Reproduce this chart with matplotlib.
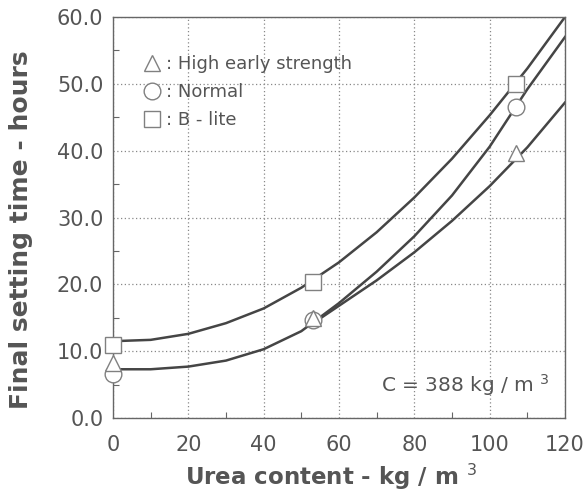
import numpy as np
import matplotlib.pyplot as plt
from matplotlib.lines import Line2D

plt.rcParams['font.family'] = ['DejaVu Sans']

# measured points (urea kg/m3 vs final setting time h)
urea = [0, 53, 107]
high_early = [8.2, 15.0, 39.7]
normal = [6.6, 14.6, 46.6]
b_lite = [11.0, 20.4, 50.0]

# fitted curves
curve_x = [0, 10, 20, 30, 40, 50, 60, 70, 80, 90, 100, 110, 120]
curve_b_lite = [11.5, 11.7, 12.6, 14.2, 16.4, 19.5, 23.3, 27.8, 33.0, 38.8, 45.3, 52.3, 60.0]
curve_normal = [7.3, 7.3, 7.7, 8.6, 10.3, 13.0, 17.2, 21.9, 27.2, 33.3, 40.6, 49.2, 57.0]
curve_hx = [55, 60, 70, 80, 90, 100, 110, 120]
curve_high = [14.9, 16.8, 20.6, 24.8, 29.5, 34.7, 40.5, 47.2]

line_c = '#454545'
mk_c = '#808080'
txt_c = '#555555'

fig = plt.figure(figsize=(5.87, 4.93), dpi=100)
ax = fig.add_axes([0.1925, 0.152, 0.77, 0.8135])

ax.plot(curve_x, curve_b_lite, color=line_c, lw=1.8)
ax.plot(curve_x, curve_normal, color=line_c, lw=1.8)
ax.plot(curve_hx, curve_high, color=line_c, lw=1.8)

mk = dict(ls='none', mfc='white', mec=mk_c, mew=1.0, ms=12, clip_on=False, zorder=5)
ax.plot(urea, b_lite, marker='s', **mk)
ax.plot(urea, normal, marker='o', **mk)
ax.plot(urea, high_early, marker='^', **mk)

ax.set_xlim(0, 120)
ax.set_ylim(0, 60)
ax.set_xticks(np.arange(0, 121, 20))
ax.set_yticks(np.arange(0, 61, 10))
ax.set_xticks(np.arange(10, 120, 20), minor=True)
ax.set_yticks(np.arange(5, 60, 10), minor=True)
ax.set_yticklabels(['%.1f' % v for v in np.arange(0, 61, 10)])
ax.tick_params(which='both', direction='in', colors='#666666', labelcolor=txt_c,
               labelsize=15, width=0.8)
ax.tick_params(which='major', length=0)
ax.tick_params(axis='x', which='major', pad=12)
ax.tick_params(axis='y', which='major', pad=7)
ax.tick_params(which='minor', length=4)
ax.grid(True, which='major', ls=(0, (1, 2)), color='#888888', lw=0.9)
for s in ax.spines.values():
    s.set_color('#666666')
    s.set_linewidth(1.0)

ax.set_xlabel('Urea content - kg / m $^{3}$', fontsize=16.5, fontweight='bold', color=txt_c,
              va='baseline')
ax.set_ylabel('Final setting time - hours', fontsize=18, fontweight='bold', color=txt_c)
ax.xaxis.set_label_coords(0.482, -0.166)
ax.yaxis.set_label_coords(-0.177, 0.47)

handles = [Line2D([], [], ls='none', marker='^', mfc='white', mec=mk_c, ms=12),
           Line2D([], [], ls='none', marker='o', mfc='white', mec=mk_c, ms=12),
           Line2D([], [], ls='none', marker='s', mfc='white', mec=mk_c, ms=12)]
labels = [': High early strength', ': Normal', ': B - lite']
leg = ax.legend(handles, labels, loc='upper left', bbox_to_anchor=(0.066, 0.905), frameon=False,
                fontsize=13, handlelength=1.0, handletextpad=0.3, labelspacing=0.55, borderaxespad=0,
                borderpad=0)
for t in leg.get_texts():
    t.set_color(txt_c)

ax.text(0.965, 0.083, 'C = 388 kg / m $^{3}$', transform=ax.transAxes, ha='right', va='center',
        fontsize=14.5, color=txt_c)

fig.savefig('out.png', dpi=100)
